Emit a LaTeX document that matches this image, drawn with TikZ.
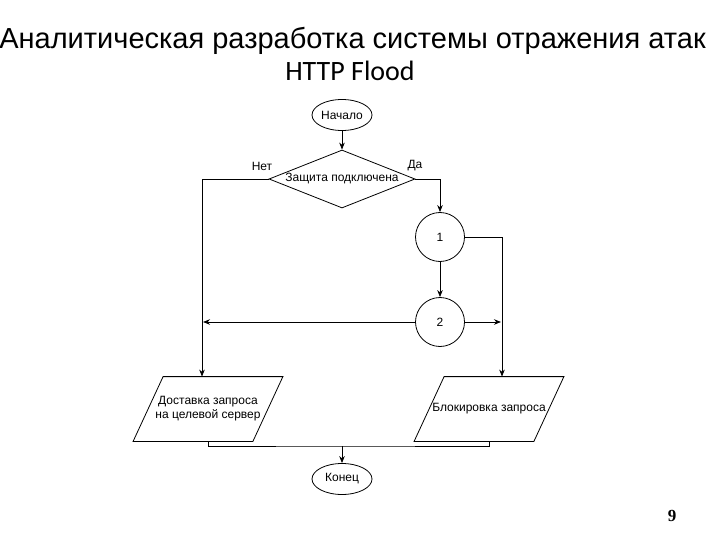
\documentclass[tikz,border=0pt]{standalone}
\usepackage{fontspec}
\setmainfont{Liberation Sans}
\newfontfamily\titlefont{Liberation Sans}
\newfontfamily\subtitlefont{Carlito}
\newfontfamily\pagefont{Liberation Serif}
\usetikzlibrary{shapes.geometric,arrows.meta}
\newcommand{\flowfont}{\fontsize{12}{14}\selectfont}
% slanted outline round a named box
\newcommand{\ioframe}[1]{\draw ([xshift=-15pt]#1.south west) -- ([xshift=15pt]#1.north west) -- ([xshift=15pt]#1.north east) -- ([xshift=-15pt]#1.south east) -- cycle;}
\tikzset{
	flow/.style={draw, line width=0.8pt, font=\flowfont},
	terminal/.style={flow, ellipse, inner sep=0pt, minimum width=60pt, minimum height=31pt},
	decision/.style={flow, diamond, inner sep=0pt, minimum width=146pt, minimum height=58pt},
	connector/.style={flow, circle, inner sep=0pt, minimum size=49pt},
	iobox/.style={font=\flowfont, rectangle, inner sep=0pt, minimum width=119pt, minimum height=64pt, align=center},
	tag/.style={font=\flowfont},
}
\begin{document}
\begin{tikzpicture}[x=1pt, y=-1pt, line width=0.8pt, >={Stealth[length=7pt,width=5.5pt]}]
	\useasboundingbox (0,0) rectangle (720,540);
	% title
	\node[anchor=base] (title) at (352.5,49) {\titlefont\fontsize{29}{32}\selectfont Аналитическая разработка системы отражения атак};
	\node[anchor=base] (subtitle) at (350,81) {\subtitlefont\fontsize{28}{32}\selectfont HTTP Flood};
	% blocks
	\node[terminal] (begin) at (342,115) {Начало};
	\node[decision, label={[font=\flowfont]center:Защита подключена}] (prot) at (342,179) {};
	\node[tag] (nolabel) at (262,166) {Нет};
	\node[tag] (yeslabel) at (415,166) {Да};
	\node[connector] (c1) at (440,237) {1};
	\node[connector] (c2) at (440,322) {2};
	\node[iobox] (deliv) at (208,409) {Доставка запроса\\на целевой сервер};
	\node[iobox] (block) at (489,409) {Блокировка запроса};
	\ioframe{deliv}
	\ioframe{block}
	\node[terminal] (end) at (342,479) {Конец};
	\coordinate (nobranch) at ([xshift=-6pt]deliv.north);
	\coordinate (yesbranch) at ([xshift=13pt]block.north);
	\coordinate (join) at (342,446);
	% connectors
	\draw [->] (begin) to (prot);
	\draw [->] (prot.east) -| (c1);
	\draw [->] (prot.west) -| (nobranch);
	\draw [->] (c1) to (c2);
	\draw [->] (c1.east) -| (yesbranch);
	\draw [->, shorten >=1pt] (c2.west) to (c2.west -| nobranch);
	\draw [->, shorten >=1pt] (c2.east) to (c2.east -| yesbranch);
	\draw (deliv.south) |- (join) -| (block.south);
	\draw [->] (join) to (end);
	% page number
	\node (page) at (672,516) {\pagefont\bfseries\fontsize{17}{20}\selectfont 9};
\end{tikzpicture}
\end{document}
